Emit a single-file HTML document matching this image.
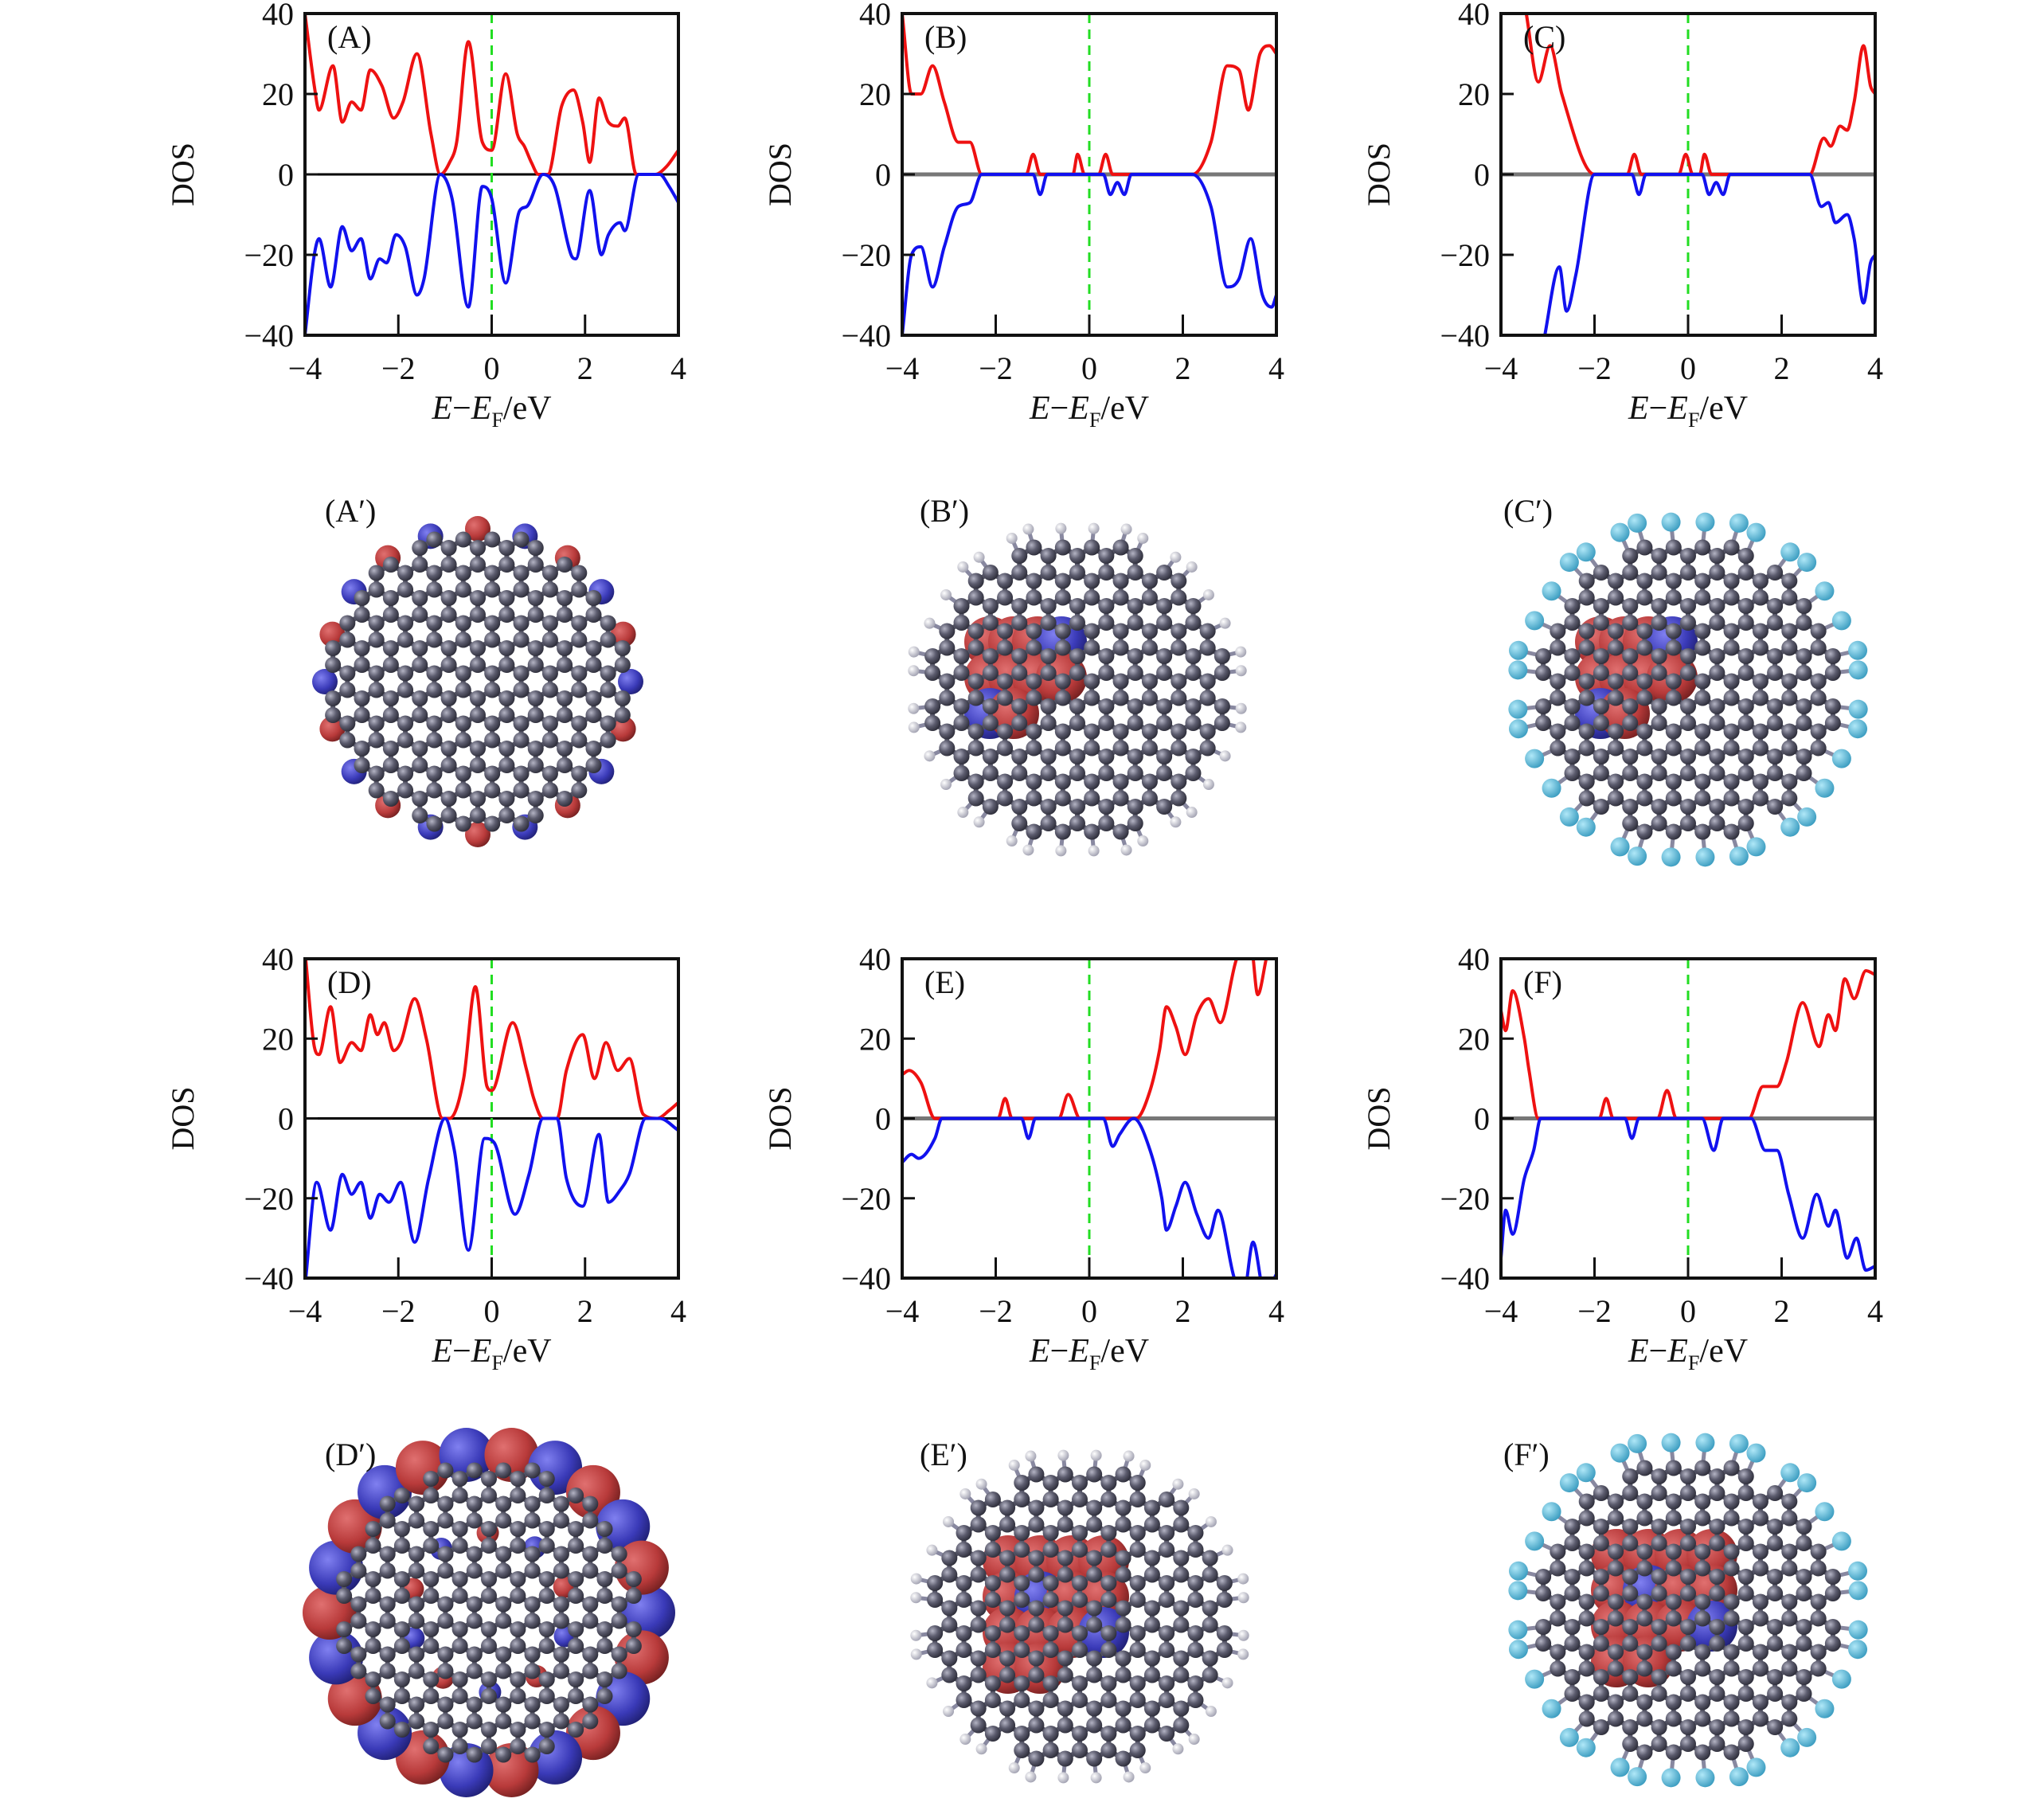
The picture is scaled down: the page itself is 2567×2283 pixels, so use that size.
<!DOCTYPE html>
<html><head><meta charset="utf-8"><style>
html,body{margin:0;padding:0;background:#fff;}
svg{display:block;}
text{font-family:"Liberation Serif",serif;fill:#111;}
</style></head><body>
<svg id="fig" xmlns="http://www.w3.org/2000/svg" width="2567" height="2283" viewBox="0 0 2567 2283">
<defs>
<radialGradient id="atomG" cx="0.35" cy="0.35" r="0.7"><stop offset="0" stop-color="#b4b4c4"/><stop offset="0.5" stop-color="#5c5c6e"/><stop offset="1" stop-color="#2c2c38"/></radialGradient>
<radialGradient id="redG" cx="0.35" cy="0.35" r="0.75"><stop offset="0" stop-color="#e07070"/><stop offset="0.6" stop-color="#b83a3a"/><stop offset="1" stop-color="#6a1c1c"/></radialGradient>
<radialGradient id="blueG" cx="0.35" cy="0.35" r="0.75"><stop offset="0" stop-color="#8080f0"/><stop offset="0.6" stop-color="#3a3ab8"/><stop offset="1" stop-color="#1c1c6a"/></radialGradient>
<radialGradient id="hG" cx="0.35" cy="0.35" r="0.7"><stop offset="0" stop-color="#ffffff"/><stop offset="1" stop-color="#a0a0b0"/></radialGradient>
<radialGradient id="fG" cx="0.35" cy="0.35" r="0.7"><stop offset="0" stop-color="#b0e8f8"/><stop offset="1" stop-color="#3a9cc0"/></radialGradient>
</defs>
</svg>
<script>
// ---------- DATA ----------
const ticksX = [-4, -2, 0, 2, 4];
const ticksY = [-40, -20, 0, 20, 40];
const panelLabels = ["(A)", "(B)", "(C)", "(D)", "(E)", "(F)"];

const aUpE = [-4,-3.8,-3.7,-3.4,-3.2,-3.0,-2.8,-2.6,-2.35,-2.1,-1.9,-1.6,-1.3,-1.1,-0.9,-0.75,-0.5,-0.2,0,0.3,0.55,0.7,0.85,1.0,1.2,1.5,1.75,1.95,2.1,2.3,2.5,2.7,2.85,3.1,3.5,3.75,4];
const aUp  = [40,22,16,27,13,18,16,26,22,14,18,30,10,0,3,8,33,8,6,25,10,7,3,0,0,17,21,13,3,19,13,12,14,0,0,2,6];
const aDnE = [-4,-3.8,-3.7,-3.45,-3.2,-3.0,-2.8,-2.6,-2.4,-2.25,-2.05,-1.85,-1.6,-1.45,-1.1,-0.85,-0.5,-0.2,0,0.3,0.6,0.75,1.1,1.35,1.7,1.8,2.1,2.35,2.5,2.75,2.85,3.15,3.6,3.8,4];
const aDn  = [-40,-20,-16,-28,-13,-19,-16,-26,-21,-22,-15,-18,-30,-26,0,-6,-33,-3,-6,-27,-9,-8,0,-3,-20,-21,-4,-20,-15,-12,-14,0,0,-3,-7];

const bUpE = [-4,-3.8,-3.6,-3.35,-3.1,-2.8,-2.55,-2.3,-1.35,-1.2,-1.05,-0.35,-0.25,-0.1,0.2,0.35,0.5,2.2,2.6,2.95,3.2,3.4,3.65,3.85,4];
const bUp  = [40,20,20,27,18,8,8,0,0,5,0,0,5,0,0,5,0,0,8,27,26,16,30,32,30];
const bDnE = [-4,-3.8,-3.6,-3.35,-3.1,-2.8,-2.55,-2.3,-1.2,-1.05,-0.9,0.3,0.45,0.6,0.75,0.9,2.2,2.6,2.95,3.2,3.45,3.7,3.9,4];
const bDn  = [-40,-20,-18,-28,-18,-8,-7,0,0,-5,0,0,-5,-2,-5,0,0,-8,-28,-26,-16,-30,-33,-30];

const cUpE = [-4,-3.55,-3.2,-2.95,-2.7,-2.0,-1.3,-1.15,-1.0,-0.2,-0.05,0.1,0.25,0.35,0.5,2.6,2.9,3.05,3.25,3.4,3.55,3.75,3.9,4];
const cUp  = [45,44,23,32,20,0,0,5,0,0,5,0,0,5,0,0,9,7,12,11,18,32,22,20];
const cDnE = [-3.9,-3.2,-2.75,-2.6,-2.4,-2.0,-1.2,-1.05,-0.9,0.3,0.45,0.6,0.75,0.9,2.6,2.85,3.0,3.15,3.4,3.55,3.75,3.9,4];
const cDn  = [-41,-45,-23,-34,-25,0,0,-5,0,0,-5,-2,-5,0,0,-8,-7,-12,-10,-16,-32,-22,-20];

const dUpE = [-4,-3.8,-3.7,-3.45,-3.25,-3.0,-2.8,-2.6,-2.45,-2.3,-2.1,-1.95,-1.65,-1.4,-1.05,-0.9,-0.6,-0.35,-0.1,0,0.45,0.75,0.9,1.1,1.4,1.6,1.95,2.2,2.45,2.7,2.95,3.25,3.55,3.8,4];
const dUp  = [42,18,16,28,14,19,17,26,21,24,17,19,30,20,0,0,10,33,8,7,24,12,5,0,0,12,21,10,19,12,15,1,0,2,4];
const dDnE = [-4,-3.75,-3.45,-3.2,-3.0,-2.8,-2.6,-2.4,-2.2,-1.95,-1.65,-1.35,-1.0,-0.8,-0.5,-0.15,0.05,0.5,0.8,1.1,1.4,1.6,1.95,2.3,2.5,2.75,2.95,3.3,3.6,4];
const dDn  = [-42,-16,-28,-14,-19,-16,-25,-19,-21,-16,-31,-15,0,-8,-33,-5,-6,-24,-14,0,0,-15,-22,-4,-21,-18,-14,0,0,-3];

const eUpE = [-4,-3.85,-3.6,-3.3,-1.95,-1.8,-1.65,-0.65,-0.45,-0.2,1.0,1.3,1.5,1.65,1.85,2.05,2.3,2.55,2.8,3.15,3.45,3.6,3.85,4];
const eUp  = [11,12,9,0,0,5,0,0,6,0,0,7,17,28,23,16,26,30,24,40,44,31,42,40];
const eDnE = [-4,-3.8,-3.65,-3.3,-3.15,-1.45,-1.3,-1.15,0.3,0.5,0.65,0.95,1.3,1.55,1.65,1.85,2.05,2.3,2.55,2.75,3.1,3.3,3.5,3.75,4];
const eDn  = [-11,-9,-10,-5,0,0,-5,0,0,-7,-4,0,-8,-20,-28,-22,-16,-24,-30,-23,-40,-44,-31,-44,-39];

const fUpE = [-4,-3.9,-3.75,-3.5,-3.4,-3.2,-1.9,-1.75,-1.6,-0.65,-0.45,-0.25,1.3,1.6,1.9,2.1,2.45,2.8,3.0,3.15,3.35,3.55,3.8,4];
const fUp  = [27,22,32,20,12,0,0,5,0,0,7,0,0,8,8,14,29,18,26,22,35,30,37,36];
const fDnE = [-4,-3.9,-3.75,-3.5,-3.3,-3.15,-1.35,-1.2,-1.05,0.3,0.55,0.75,1.35,1.65,1.9,2.15,2.45,2.75,3.0,3.15,3.4,3.6,3.8,4];
const fDn  = [-35,-23,-29,-15,-8,0,0,-5,0,0,-8,0,0,-8,-8,-19,-30,-19,-27,-23,-35,-30,-38,-37];

const upE = [aUpE,bUpE,cUpE,dUpE,eUpE,fUpE];
const upV = [aUp,bUp,cUp,dUp,eUp,fUp];
const dnE = [aDnE,bDnE,cDnE,dDnE,eDnE,fDnE];
const dnV = [aDn,bDn,cDn,dDn,eDn,fDn];

// ---------- LAYOUT ----------
const NS = "http://www.w3.org/2000/svg";
const svg = document.getElementById("fig");
const frames = [
  {x0:383,x1:852,y0:17,y1:421},{x0:1133,x1:1603,y0:17,y1:421},{x0:1885,x1:2355,y0:17,y1:421},
  {x0:383,x1:852,y0:1204,y1:1605},{x0:1133,x1:1603,y0:1204,y1:1605},{x0:1885,x1:2355,y0:1204,y1:1605}
];
const zeroGray = [false,true,true,false,true,true];
function mk(tag, attrs, parent){ const e=document.createElementNS(NS,tag); for(const k in attrs) e.setAttribute(k,attrs[k]); (parent||svg).appendChild(e); return e; }
function sx(f,e){ return f.x0 + (e+4)/8*(f.x1-f.x0); }
function sy(f,v){ return f.y1 - (v+40)/80*(f.y1-f.y0); }
function monoPath(xs, ys){
  const n=xs.length, d=[], m=[];
  for(let i=0;i<n-1;i++) d.push((ys[i+1]-ys[i])/(xs[i+1]-xs[i]));
  for(let i=0;i<n;i++){
    if(i===0) m.push(d[0]); else if(i===n-1) m.push(d[n-2]);
    else m.push(d[i-1]*d[i]<=0?0:(d[i-1]+d[i])/2);
  }
  for(let i=0;i<n-1;i++){ if(d[i]===0){m[i]=0;m[i+1]=0;continue;} const a=m[i]/d[i],b=m[i+1]/d[i],s=a*a+b*b; if(s>9){const t=3/Math.sqrt(s);m[i]=t*a*d[i];m[i+1]=t*b*d[i];} }
  let p="M"+xs[0].toFixed(1)+","+ys[0].toFixed(1);
  for(let i=0;i<n-1;i++){ const h=(xs[i+1]-xs[i])/3;
    p+=" C"+(xs[i]+h).toFixed(1)+","+(ys[i]+m[i]*h).toFixed(1)+" "+(xs[i+1]-h).toFixed(1)+","+(ys[i+1]-m[i+1]*h).toFixed(1)+" "+xs[i+1].toFixed(1)+","+ys[i+1].toFixed(1); }
  return p;
}
const pnames = ["a","b","c","d","e","f"];
frames.forEach((f,i)=>{
  const g = mk("g",{});
  
  
  const cp = mk("clipPath",{id:"clip"+i}, g);
  mk("rect",{x:f.x0,y:f.y0,width:f.x1-f.x0,height:f.y1-f.y0},cp);
  const zl = mk("line",{x1:f.x0,x2:f.x1,y1:sy(f,0),y2:sy(f,0),stroke:zeroGray[i]?"#777":"#000","stroke-width":zeroGray[i]?5:3},g);
  
  
  const fl = mk("line",{x1:sx(f,0),x2:sx(f,0),y1:f.y0,y2:f.y1,stroke:"#22dd22","stroke-width":3,"stroke-dasharray":"12,8"},g);
  
  
  const up = mk("path",{d:monoPath(upE[i].map(e=>sx(f,e)),upV[i].map(v=>sy(f,v))),fill:"none",stroke:"#ee1111","stroke-width":4,"clip-path":"url(#clip"+i+")"},g);
  
  
  const dn = mk("path",{d:monoPath(dnE[i].map(e=>sx(f,e)),dnV[i].map(v=>sy(f,v))),fill:"none",stroke:"#1111ee","stroke-width":4,"clip-path":"url(#clip"+i+")"},g);
  
  
  const fr = mk("rect",{x:f.x0,y:f.y0,width:f.x1-f.x0,height:f.y1-f.y0,fill:"none",stroke:"#111","stroke-width":4},g);
  
  
  ticksY.forEach(t=>{
    mk("line",{x1:f.x0,x2:f.x0+16,y1:sy(f,t),y2:sy(f,t),stroke:"#111","stroke-width":3},g);
    const tx = mk("text",{x:f.x0-14,y:sy(f,t)+14,"font-size":40,"text-anchor":"end"},g);
    tx.textContent = t<0?"\u2212"+(-t):String(t);
    
    
  });
  ticksX.forEach(t=>{
    if(t>-4 && t<4) mk("line",{x1:sx(f,t),x2:sx(f,t),y1:f.y1,y2:f.y1-26,stroke:"#111","stroke-width":3},g);
    const tx = mk("text",{x:sx(f,t),y:f.y1+55,"font-size":40,"text-anchor":"middle"},g);
    tx.textContent = t<0?"\u2212"+(-t):String(t);
    
    
  });
  const yl = mk("text",{x:0,y:0,"font-size":40,"text-anchor":"middle",transform:"translate("+(f.x0-140)+","+sy(f,0)+") rotate(-90)"},g);
  yl.textContent="DOS";
  
  
  const xl = mk("text",{x:(f.x0+f.x1)/2,y:f.y1+105,"font-size":42,"text-anchor":"middle"},g);
  xl.innerHTML='<tspan font-style="italic">E</tspan>\u2212<tspan font-style="italic">E</tspan><tspan font-size="26" dy="10">F</tspan><tspan dy="-10">/eV</tspan>';
  
  
  const pl = mk("text",{x:f.x0+28,y:f.y0+43,"font-size":40},g);
  pl.textContent = panelLabels[i];
  
  
});

// ---------- MOLECULE RENDERINGS ----------
const mols = [
  {cx:600,cy:856,r:180,lab:"(A\u2032)",lx:408,ly:655,term:null,blobs:"edgeSmall"},
  {cx:1353,cy:866,r:175,lab:"(B\u2032)",lx:1155,ly:655,term:"H",blobs:"left"},
  {cx:2120,cy:866,r:175,lab:"(C\u2032)",lx:1888,ly:655,term:"F",blobs:"left"},
  {cx:614,cy:2025,r:180,lab:"(D\u2032)",lx:408,ly:1840,term:null,blobs:"edgeBig"},
  {cx:1356,cy:2030,r:175,lab:"(E\u2032)",lx:1155,ly:1840,term:"H",blobs:"center"},
  {cx:2120,cy:2022,r:175,lab:"(F\u2032)",lx:1888,ly:1840,term:"F",blobs:"center"}
];
const mnames=["a-prime","b-prime","c-prime","d-prime","e-prime","f-prime"];
mols.forEach((M,k)=>{
  const g = mk("g",{});
  
  
  const a=21, w=Math.sqrt(3)*a;
  const atoms=new Map(), bondSet=new Map();
  for(let row=-12; row<=12; row++){
    for(let col=-12; col<=12; col++){
      const hx = M.cx + col*w + (row%2?w/2:0), hy = M.cy + row*1.5*a;
      if(Math.hypot(hx-M.cx,hy-M.cy) > M.r) continue;
      const vs=[];
      for(let j=0;j<6;j++){ const ang=Math.PI/6+j*Math.PI/3; vs.push([hx+a*Math.cos(ang),hy+a*Math.sin(ang)]); }
      const keys = vs.map(v=>Math.round(v[0]/2)+","+Math.round(v[1]/2));
      vs.forEach((v,j)=>{ if(!atoms.has(keys[j])) atoms.set(keys[j],{p:v,nb:new Set()}); });
      vs.forEach((v,j)=>{ const k2=keys[(j+1)%6]; const bk=[keys[j],k2].sort().join("|"); bondSet.set(bk,[v,vs[(j+1)%6]]); atoms.get(keys[j]).nb.add(k2); atoms.get(k2).nb.add(keys[j]); });
    }
  }
  const bl=[];
  if(M.blobs==="left"){ for(let j=0;j<10;j++){ bl.push([M.cx-110+ (j%4)*30, M.cy-60+Math.floor(j/4)*45, 32, j%5===3?"blueG":"redG"]); } }
  if(M.blobs==="center"){ for(let j=0;j<14;j++){ bl.push([M.cx-90+(j%4)*40, M.cy-70+Math.floor(j/4)*45, 32, j%6===5?"blueG":"redG"]); } }
  if(M.blobs==="edgeSmall"){ for(let j=0;j<20;j++){ const t=j/20*2*Math.PI; bl.push([M.cx+(M.r+12)*Math.cos(t), M.cy+(M.r+12)*Math.sin(t), 16, j%2?"redG":"blueG"]); } }
  if(M.blobs==="edgeBig"){ for(let j=0;j<22;j++){ const t=j/22*2*Math.PI; bl.push([M.cx+(M.r+20)*Math.cos(t), M.cy+(M.r+20)*Math.sin(t), 34, j%2?"redG":"blueG"]); }
    for(let j=0;j<10;j++){ const t=j/10*2*Math.PI+0.3; bl.push([M.cx+100*Math.cos(t), M.cy+100*Math.sin(t), 14, j%2?"redG":"blueG"]); } }
  bl.forEach(b=>mk("circle",{cx:b[0],cy:b[1],r:b[2],fill:"url(#"+b[3]+")"},g));
  let p=""; bondSet.forEach(b=>{ p+="M"+b[0][0].toFixed(1)+","+b[0][1].toFixed(1)+"L"+b[1][0].toFixed(1)+","+b[1][1].toFixed(1); });
  mk("path",{d:p,stroke:"#555566","stroke-width":6,fill:"none"},g);
  if(M.term){
    atoms.forEach(A=>{ if(A.nb.size===2){ const v=A.p; const d=Math.hypot(v[0]-M.cx,v[1]-M.cy); const ux=(v[0]-M.cx)/d, uy=(v[1]-M.cy)/d; const L=M.term==="F"?32:24;
      mk("line",{x1:v[0],y1:v[1],x2:v[0]+ux*L,y2:v[1]+uy*L,stroke:"#8888a0","stroke-width":5},g);
      mk("circle",{cx:v[0]+ux*L,cy:v[1]+uy*L,r:M.term==="F"?12:7,fill:M.term==="F"?"url(#fG)":"url(#hG)"},g); } });
  }
  atoms.forEach(A=>mk("circle",{cx:A.p[0],cy:A.p[1],r:10,fill:"url(#atomG)"},g));
  const t = mk("text",{x:M.lx,y:M.ly,"font-size":40},g);
  t.textContent = M.lab;
  
  
});
</script>
</body></html>
